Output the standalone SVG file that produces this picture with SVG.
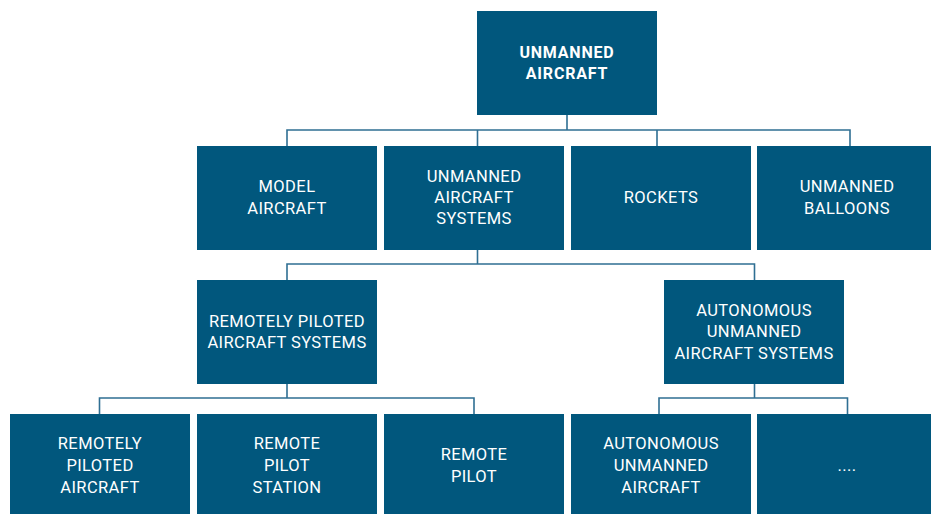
<svg xmlns="http://www.w3.org/2000/svg" width="931" height="514" viewBox="0 0 931 514">
<style>
.box{fill:#01577D}
.t{font-family:Roboto,"Liberation Sans",sans-serif;font-size:16.5px;letter-spacing:0.4px;fill:#fff;text-anchor:middle}
.b{font-weight:bold;font-size:16px;letter-spacing:0.8px}
.c{fill:none;stroke:#2f6f93;stroke-width:1.6}
</style>
<rect width="931" height="514" fill="#fff"/>
<g id="connectors">
<path class="c" d="M567 115V130M287 146V130H850V146M477.5 130V146M657 130V146"/>
<path class="c" d="M477.5 250V264M287 280V264H754.5V280"/>
<path class="c" d="M287 384V398M99.5 414V398H474V414"/>
<path class="c" d="M754.5 384V398M659 414V398H847.5V414"/>
</g>
<g id="n-unmanned-aircraft">
<rect class="box" x="477" y="11" width="180" height="104"/>
<text class="t b" x="567" y="57.5">UNMANNED</text>
<text class="t b" x="567" y="78.5">AIRCRAFT</text>
</g>
<g id="n-model-aircraft">
<rect class="box" x="197" y="146" width="180" height="104"/>
<text class="t" x="287" y="192">MODEL</text>
<text class="t" x="287" y="214">AIRCRAFT</text>
</g>
<g id="n-uas">
<rect class="box" x="384" y="146" width="180" height="104"/>
<text class="t" x="474" y="182">UNMANNED</text>
<text class="t" x="474" y="203">AIRCRAFT</text>
<text class="t" x="474" y="224">SYSTEMS</text>
</g>
<g id="n-rockets">
<rect class="box" x="571" y="146" width="180" height="104"/>
<text class="t" x="661" y="203">ROCKETS</text>
</g>
<g id="n-balloons">
<rect class="box" x="757" y="146" width="180" height="104"/>
<text class="t" x="847" y="192">UNMANNED</text>
<text class="t" x="847" y="214">BALLOONS</text>
</g>
<g id="n-rpas">
<rect class="box" x="197" y="280" width="180" height="104"/>
<text class="t" x="287" y="327">REMOTELY PILOTED</text>
<text class="t" x="287" y="348">AIRCRAFT SYSTEMS</text>
</g>
<g id="n-auas">
<rect class="box" x="664" y="280" width="180" height="104"/>
<text class="t" x="754" y="316">AUTONOMOUS</text>
<text class="t" x="754" y="337">UNMANNED</text>
<text class="t" x="754" y="359">AIRCRAFT SYSTEMS</text>
</g>
<g id="n-rpa">
<rect class="box" x="10" y="414" width="180" height="104"/>
<text class="t" x="100" y="449">REMOTELY</text>
<text class="t" x="100" y="471">PILOTED</text>
<text class="t" x="100" y="493">AIRCRAFT</text>
</g>
<g id="n-rps">
<rect class="box" x="197" y="414" width="180" height="104"/>
<text class="t" x="287" y="449">REMOTE</text>
<text class="t" x="287" y="471">PILOT</text>
<text class="t" x="287" y="493">STATION</text>
</g>
<g id="n-rp">
<rect class="box" x="384" y="414" width="180" height="104"/>
<text class="t" x="474" y="460">REMOTE</text>
<text class="t" x="474" y="482">PILOT</text>
</g>
<g id="n-aua">
<rect class="box" x="571" y="414" width="180" height="104"/>
<text class="t" x="661" y="449">AUTONOMOUS</text>
<text class="t" x="661" y="471">UNMANNED</text>
<text class="t" x="661" y="493">AIRCRAFT</text>
</g>
<g id="n-more">
<rect class="box" x="757" y="414" width="180" height="104"/>
<text class="t" x="847" y="471">....</text>
</g>
</svg>
